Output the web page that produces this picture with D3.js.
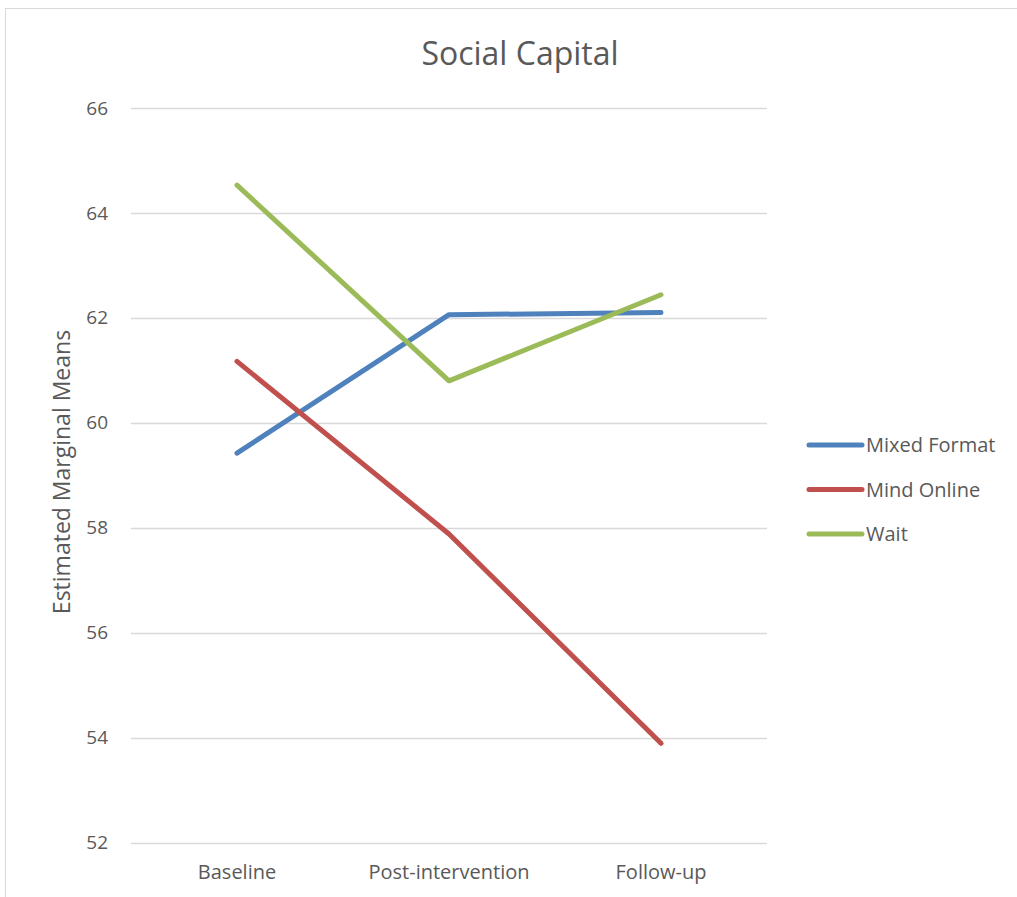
<!DOCTYPE html>
<html lang="en">
<head>
  <meta charset="UTF-8">
  <title>Social Capital</title>
  <script src="https://d3js.org/d3.v7.min.js"></script>
  <style>
    body {
      margin: 0;
      background: #fff;
      font-family: "Open Sans", "Noto Sans", sans-serif;
    }
    svg text {
      fill: #595959;
    }
  </style>
</head>
<body>
<svg width="1017" height="897"></svg>

<script>
  // chart data
  const categories = ["Baseline", "Post-intervention", "Follow-up"];
  const seriesNames = ["Mixed Format", "Mind Online", "Wait"];
  const mixedFormat = [59.42, 62.06, 62.10];
  const mindOnline = [61.17, 57.88, 53.89];
  const wait = [64.53, 60.80, 62.44];
  const yTicks = [52, 54, 56, 58, 60, 62, 64, 66];
  const colors = ["#4f81bd", "#c0504d", "#9bbb59"];

  const series = [mixedFormat, mindOnline, wait].map((vals, i) => ({
    name: seriesNames[i],
    color: colors[i],
    values: vals.map((v, j) => ({cat: categories[j], value: v}))
  }));

  const svg = d3.select("svg");

  // outer chart border
  svg.append("rect")
    .attr("x", 5.5).attr("y", 8.5)
    .attr("width", 1100).attr("height", 1000)
    .attr("fill", "none")
    .attr("stroke", "#d9d9d9")
    .attr("stroke-width", 1);

  const plotLeft = 131, plotRight = 767, plotTop = 108, plotBottom = 842.5;

  const x = d3.scaleBand()
    .domain(categories)
    .range([plotLeft, plotRight]);

  const y = d3.scaleLinear()
    .domain([52, 66])
    .range([plotBottom, plotTop]);

  // gridlines
  svg.append("g")
    .selectAll("line")
    .data(yTicks)
    .join("line")
    .attr("x1", plotLeft).attr("x2", plotRight)
    .attr("y1", d => Math.round(y(d)) + 0.5)
    .attr("y2", d => Math.round(y(d)) + 0.5)
    .attr("stroke", "#d9d9d9")
    .attr("stroke-width", 1.5);

  // y axis labels
  const yAxis = svg.append("g")
    .attr("transform", `translate(${plotLeft - 23},0)`)
    .call(d3.axisLeft(y).tickValues(yTicks).tickSize(0).tickPadding(0));
  yAxis.select(".domain").remove();
  yAxis.selectAll("text")
    .attr("font-size", 19)
    .attr("font-family", "'Open Sans', sans-serif")
    .style("fill", "#595959");

  // x axis labels
  const xAxis = svg.append("g")
    .attr("transform", `translate(0,${plotBottom + 22})`)
    .call(d3.axisBottom(x).tickSize(0).tickPadding(0));
  xAxis.select(".domain").remove();
  xAxis.selectAll("text")
    .attr("font-size", 20)
    .attr("font-family", "'Open Sans', sans-serif")
    .style("fill", "#595959");

  // title
  svg.append("text")
    .attr("x", 520)
    .attr("y", 65)
    .attr("text-anchor", "middle")
    .attr("font-size", 32)
    .text("Social Capital");

  // y axis title
  svg.append("text")
    .attr("transform", "rotate(-90)")
    .attr("x", -472)
    .attr("y", 70)
    .attr("text-anchor", "middle")
    .attr("font-size", 23)
    .text("Estimated Marginal Means");

  // lines
  const line = d3.line()
    .x(d => x(d.cat) + x.bandwidth() / 2)
    .y(d => y(d.value));

  svg.append("g")
    .selectAll("path")
    .data(series)
    .join("path")
    .attr("d", d => line(d.values))
    .attr("fill", "none")
    .attr("stroke", d => d.color)
    .attr("stroke-width", 5)
    .attr("stroke-linecap", "round")
    .attr("stroke-linejoin", "round");

  // legend
  const legend = svg.append("g")
    .selectAll("g")
    .data(series)
    .join("g")
    .attr("transform", (d, i) => `translate(809,${445 + i * 44.5})`);

  legend.append("line")
    .attr("x1", 0).attr("x2", 53)
    .attr("stroke", d => d.color)
    .attr("stroke-width", 5)
    .attr("stroke-linecap", "round");

  legend.append("text")
    .attr("x", 57)
    .attr("dy", "0.35em")
    .attr("font-size", 20)
    .text(d => d.name);
</script>
</body>
</html>
